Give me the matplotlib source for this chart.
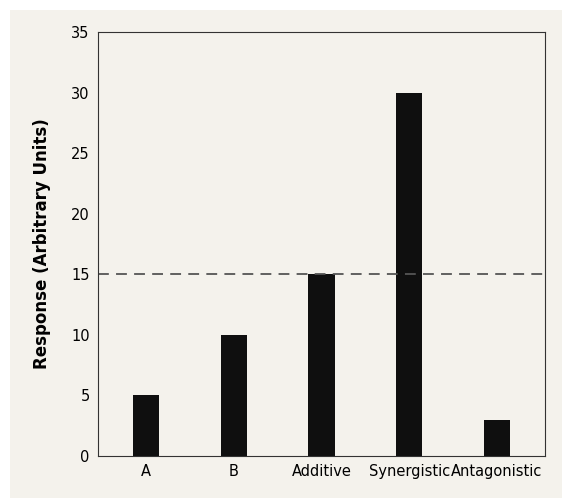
import matplotlib
matplotlib.use("Agg")
import matplotlib.pyplot as plt
from matplotlib.patches import Rectangle

categories = ["A", "B", "Additive", "Synergistic", "Antagonistic"]
values = [5, 10, 15, 30, 3]
threshold = 15

bg = "#f4f2ec"
fig = plt.figure(figsize=(5.62, 4.98), dpi=100)
fig.patches.append(Rectangle((10/562, 0), 1, 1 - 10/498, transform=fig.transFigure,
                             facecolor=bg, edgecolor="none", zorder=-1))
ax = fig.add_axes([98/562, 1 - 456/498, (545-98)/562, (456-32)/498])
ax.set_facecolor(bg)
x = range(len(categories))
ax.bar(x, values, width=0.3, color="#0f0f0f")
ax.axhline(threshold, color="#555555", linestyle=(0, (6, 4)), linewidth=1.3)
ax.set_xlim(-0.55, 4.55)
ax.set_ylim(0, 35)
ax.set_yticks(range(0, 36, 5))
ax.set_xticks(list(x))
ax.set_xticklabels(categories)
ax.tick_params(length=0, labelsize=10.5, pad=6)
ax.set_ylabel("Response (Arbitrary Units)", fontsize=12, fontweight="bold", labelpad=14)
for s in ax.spines.values():
    s.set_color("#333333")
fig.savefig("out.png", dpi=100, facecolor="white")
